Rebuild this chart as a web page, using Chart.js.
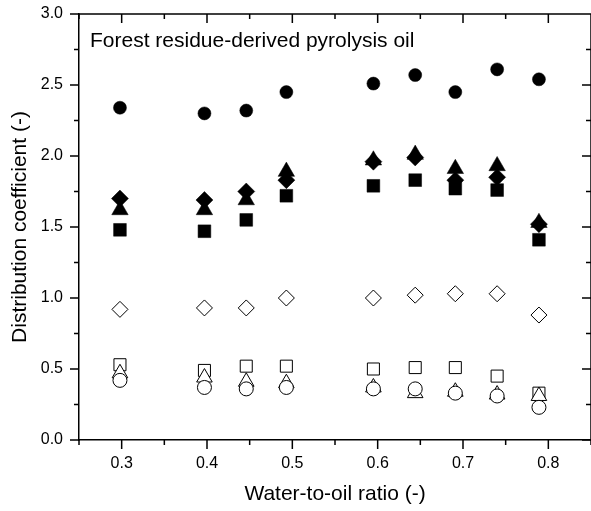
<!DOCTYPE html>
<html>
<head>
<meta charset="utf-8">
<script src="https://cdn.jsdelivr.net/npm/chart.js@4.4.0/dist/chart.umd.min.js"></script>
<style>
    html, body { margin: 0; padding: 0; background: #fff; }
    #wrap { width: 591px; height: 511px; position: relative; }
</style>
</head>
<body>
<div id="wrap"><canvas id="chart"></canvas></div>
<script>
// Water-to-oil ratios (x)
const ratios = [0.298, 0.397, 0.446, 0.493, 0.595, 0.644, 0.691, 0.740, 0.789];

// Distribution coefficients, one array per marker
const filledCircle   = [2.34, 2.30, 2.32, 2.45, 2.51, 2.57, 2.45, 2.61, 2.54];
const filledDiamond  = [1.70, 1.69, 1.75, 1.83, 1.96, 1.99, 1.83, 1.85, 1.52];
const filledTriangle = [1.62, 1.62, 1.69, 1.89, 1.97, 2.01, 1.91, 1.93, 1.53];
const filledSquare   = [1.48, 1.47, 1.55, 1.72, 1.79, 1.83, 1.77, 1.76, 1.41];
const openDiamond    = [0.92, 0.93, 0.93, 1.00, 1.00, 1.02, 1.03, 1.03, 0.88];
const openSquare     = [0.53, 0.49, 0.52, 0.52, 0.50, 0.51, 0.51, 0.45, 0.33];
const openTriangle   = [0.47, 0.44, 0.41, 0.40, 0.37, 0.33, 0.34, 0.32, 0.31];
const openCircle     = [0.42, 0.37, 0.36, 0.37, 0.36, 0.36, 0.33, 0.31, 0.23];

// Ticks
const xTicks = [0.3, 0.4, 0.5, 0.6, 0.7, 0.8];
const xMinorTicks = [0.25, 0.35, 0.45, 0.55, 0.65, 0.75, 0.85];
const yTicks = [0.0, 0.5, 1.0, 1.5, 2.0, 2.5, 3.0];
const yMinorTicks = [0.25, 0.75, 1.25, 1.75, 2.25, 2.75];

const FONT = "'Liberation Sans', Arial, sans-serif";

function pts(ys) {
    return ratios.map((x, i) => ({ x: x, y: ys[i] }));
}

function series(label, ys, style, radius, filled, order) {
    return {
        label: label,
        data: pts(ys),
        pointStyle: style,
        pointRadius: radius,
        pointBackgroundColor: filled ? '#000' : '#fff',
        pointBorderColor: '#000',
        pointBorderWidth: filled ? 0.5 : 1,
        showLine: false,
        order: order
    };
}

// frame, ticks on all four sides and the label inside the plot
const frameTicks = {
    id: 'frameTicks',
    afterDraw(chart) {
        const { ctx, chartArea: a, scales: { x, y } } = chart;
        ctx.save();
        ctx.strokeStyle = '#000';
        ctx.lineWidth = 1.5;
        ctx.beginPath();
        ctx.moveTo(a.left, a.top);
        ctx.lineTo(a.right, a.top);
        ctx.lineTo(a.right, a.bottom);

        const xt = (v, len) => {
            const px = x.getPixelForValue(v);
            ctx.moveTo(px, a.bottom); ctx.lineTo(px, a.bottom + len);
            ctx.moveTo(px, a.top); ctx.lineTo(px, a.top + len);
        };
        const yt = (v, len) => {
            const py = y.getPixelForValue(v);
            ctx.moveTo(a.left, py); ctx.lineTo(a.left - len, py);
            ctx.moveTo(a.right, py); ctx.lineTo(a.right - len, py);
        };
        xTicks.forEach(v => xt(v, 9));
        xMinorTicks.forEach(v => xt(v, 5));
        yTicks.forEach(v => yt(v, 9));
        yMinorTicks.forEach(v => yt(v, 5));
        ctx.stroke();

        ctx.fillStyle = '#000';
        ctx.font = '21px ' + FONT;
        ctx.textBaseline = 'alphabetic';
        ctx.fillText('Forest residue-derived pyrolysis oil', 90, 47);
        ctx.restore();
    }
};

new Chart(document.getElementById('chart'), {
    type: 'scatter',
    data: {
        datasets: [
            series('filled circle', filledCircle, 'circle', 6.5, true, 10),
            series('filled diamond', filledDiamond, 'rectRot', 8.5, true, 11),
            series('filled triangle', filledTriangle, 'triangle', 9.5, true, 12),
            series('filled square', filledSquare, 'rect', 9, true, 13),
            series('open diamond', openDiamond, 'rectRot', 8, false, 3),
            series('open square', openSquare, 'rect', 8.5, false, 2),
            series('open triangle', openTriangle, 'triangle', 9, false, 1),
            series('open circle', openCircle, 'circle', 7, false, 0)
        ]
    },
    options: {
        responsive: true,
        maintainAspectRatio: false,
        animation: false,
        // plot frame runs a few px past the right edge of the picture
        layout: { autoPadding: false, padding: { left: 0, right: -5, top: 14, bottom: 0 } },
        plugins: { legend: { display: false }, tooltip: { enabled: false } },
        scales: {
            x: {
                type: 'linear',
                min: 0.25,
                max: 0.85,
                afterBuildTicks: s => { s.ticks = xTicks.map(v => ({ value: v })); },
                afterFit: s => { s.height = 71; s.paddingLeft = 0; s.paddingRight = 0; },
                grid: { display: false, drawTicks: false },
                border: { display: true, color: '#000', width: 1.5 },
                ticks: {
                    color: '#000',
                    padding: 14,
                    maxRotation: 0,
                    font: { family: FONT, size: 16 },
                    callback: v => v.toFixed(1)
                },
                title: {
                    display: true,
                    text: 'Water-to-oil ratio (-)',
                    color: '#000',
                    font: { family: FONT, size: 21 },
                    padding: { top: 0, bottom: 4 }
                }
            },
            y: {
                type: 'linear',
                min: 0,
                max: 3,
                afterBuildTicks: s => { s.ticks = yTicks.map(v => ({ value: v })); },
                afterFit: s => { s.width = 79; s.paddingTop = 0; s.paddingBottom = 0; },
                grid: { display: false, drawTicks: false },
                border: { display: true, color: '#000', width: 1.5 },
                ticks: {
                    color: '#000',
                    padding: 16,
                    font: { family: FONT, size: 16 },
                    callback: v => v.toFixed(1)
                },
                title: {
                    display: true,
                    text: 'Distribution coefficient (-)',
                    color: '#000',
                    font: { family: FONT, size: 21 },
                    padding: { top: 8, bottom: 0 }
                }
            }
        }
    },
    plugins: [frameTicks]
});
</script>
</body>
</html>
